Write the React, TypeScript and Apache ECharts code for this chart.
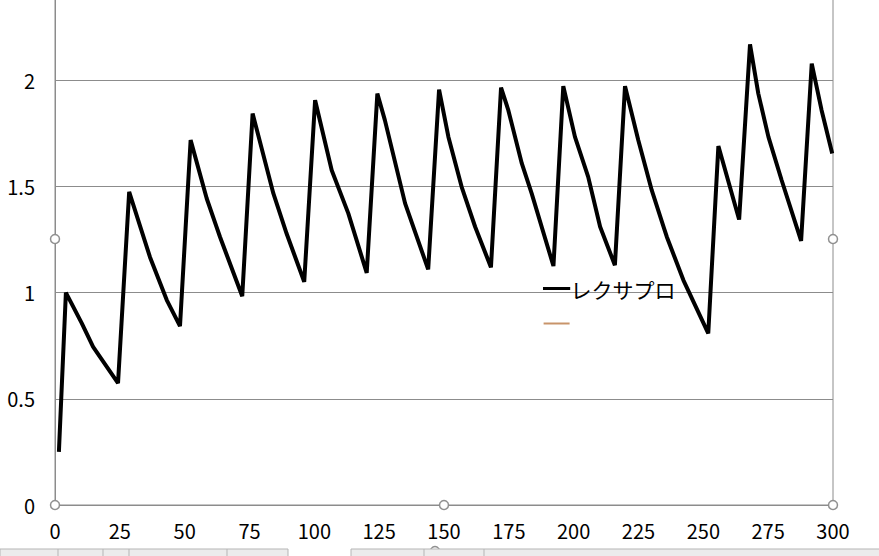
import React, { useEffect, useRef } from "react";
import * as echarts from "echarts";

const xs = [1.5, 4.2, 10.3, 14.7, 24.3, 28.6, 36.6, 43.1, 48.2, 52.3, 58.5, 63.6, 72.2, 76.2, 84.2, 89.3, 96.1, 100.3, 106.7, 113.1, 120.2, 124.3, 127.2, 135, 143.9, 148.1, 151.7, 156.8, 162, 168.1, 172, 174.8, 180, 183.8, 192.2, 196, 200.5, 205.6, 210.2, 215.9, 219.8, 224.9, 230.1, 235.9, 242.3, 251.9, 255.8, 263.8, 268, 271.2, 275.1, 280.2, 287.7, 291.8, 295.6, 299.7];
const ys = [0.25, 1.0, 0.856, 0.744, 0.574, 1.474, 1.168, 0.965, 0.842, 1.718, 1.443, 1.263, 0.983, 1.843, 1.467, 1.278, 1.051, 1.906, 1.576, 1.373, 1.093, 1.937, 1.812, 1.42, 1.109, 1.956, 1.733, 1.498, 1.31, 1.119, 1.965, 1.859, 1.608, 1.467, 1.125, 1.972, 1.733, 1.545, 1.31, 1.129, 1.972, 1.718, 1.482, 1.263, 1.059, 0.808, 1.69, 1.344, 2.169, 1.937, 1.733, 1.529, 1.244, 2.078, 1.859, 1.655];
const seriesName = "レクサプロ";
const seriesName2 = " ";

const FONT = "'Noto Sans CJK JP', 'Noto Sans', sans-serif";
const SHIFT = 26; // chart canvas starts above the visible page

export default function App() {
  const ref = useRef<HTMLDivElement>(null);
  useEffect(() => {
    if (!ref.current) return;
    const chart = echarts.init(ref.current, undefined, { renderer: "svg" });
    const data = xs.map((x, i) => [x, ys[i]]);
    const handle = (x: number, y: number) => ({
      type: "circle",
      shape: { cx: x, cy: y + SHIFT, r: 4.5 },
      style: { fill: "#fff", stroke: "#8f8f8f", lineWidth: 1.5 },
      z: 100,
    });
    chart.setOption({
      animation: false,
      backgroundColor: "#fff",
      textStyle: { fontFamily: FONT },
      grid: {
        left: 55,
        right: 46,
        top: 0,
        bottom: 51,
        show: true,
        borderColor: "#8c8c8c",
        borderWidth: 1,
      },
      legend: {
        orient: "vertical",
        left: 543,
        top: 278 + SHIFT,
        padding: 0,
        itemWidth: 26,
        itemHeight: 2,
        itemGap: 14,
        icon: "rect",
        textStyle: { fontSize: 21, color: "#000", fontFamily: FONT, padding: [0, 0, 0, -4] },
        data: [
          { name: seriesName, itemStyle: { color: "#000", borderColor: "#000", borderWidth: 1.2 } },
          { name: seriesName2, itemStyle: { color: "#c8946a", borderWidth: 0 } },
        ],
      },
      xAxis: {
        type: "value",
        min: 0,
        max: 300,
        interval: 25,
        axisLine: { show: true, lineStyle: { color: "#8c8c8c", width: 1 } },
        axisTick: { show: false },
        splitLine: { show: false },
        axisLabel: { fontSize: 20, color: "#000", margin: 15, fontFamily: FONT },
      },
      yAxis: {
        type: "value",
        min: 0,
        max: 2.5,
        interval: 0.5,
        axisLine: { show: true, lineStyle: { color: "#8c8c8c", width: 1 } },
        axisTick: { show: false },
        splitLine: { show: true, lineStyle: { color: "#8c8c8c", width: 1 } },
        axisLabel: {
          fontSize: 20,
          color: "#000",
          margin: 20,
          fontFamily: FONT,
          formatter: (v: number) => (v > 2.2 ? "" : String(v)),
        },
      },
      series: [
        {
          name: seriesName,
          type: "line",
          data,
          showSymbol: false,
          symbol: "none",
          lineStyle: { color: "#000", width: 4 },
          itemStyle: { color: "#000" },
        },
        {
          name: seriesName2,
          type: "line",
          data: [],
          showSymbol: false,
          lineStyle: { color: "#c8946a", width: 2 },
          itemStyle: { color: "#c8946a" },
        },
      ],
      graphic: [
        handle(55, 239),
        handle(833, 239),
        handle(55, 505),
        handle(444, 505),
        handle(833, 505),
        handle(435, 551),
        {
          type: "rect",
          shape: { x: 0, y: 549 + SHIFT, width: 288, height: 10 },
          style: { fill: "#ececec", stroke: "#b5b5b5", lineWidth: 1 },
          z: 101,
        },
        {
          type: "rect",
          shape: { x: 351, y: 549 + SHIFT, width: 540, height: 10 },
          style: { fill: "#ececec", stroke: "#b5b5b5", lineWidth: 1 },
          z: 101,
        },
        ...[58, 103, 129, 227, 424, 484].map((x) => ({
          type: "line",
          shape: { x1: x, y1: 549 + SHIFT, x2: x, y2: 556 + SHIFT },
          style: { stroke: "#b5b5b5", lineWidth: 1 },
          z: 102,
        })),
      ],
    });
    return () => chart.dispose();
  }, []);
  return (
    <div
      ref={ref}
      style={{ position: "fixed", left: 0, top: -SHIFT, width: 879, height: 556 + SHIFT, background: "#fff" }}
    />
  );
}
